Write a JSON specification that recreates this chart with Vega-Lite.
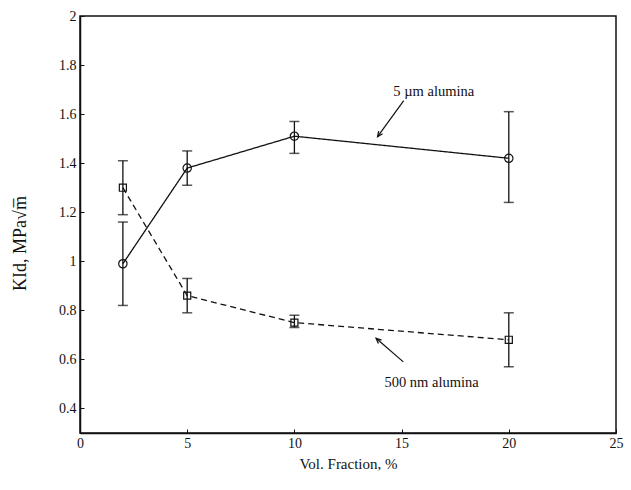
{
  "$schema": "https://vega.github.io/schema/vega-lite/v6.json",
  "width": 536,
  "height": 417,
  "autosize": "none",
  "padding": {"left": 80, "top": 16, "right": 15, "bottom": 57},
  "background": "white",
  "config": {
    "view": {"stroke": "#111", "strokeWidth": 1.5},
    "font": "Liberation Serif",
    "axis": {
      "domainColor": "#111", "domainWidth": 1.5, "tickColor": "#111",
      "labelFont": "Liberation Serif", "titleFont": "Liberation Serif",
      "labelColor": "#111", "titleColor": "#111", "grid": false,
      "titleFontWeight": "normal"
    }
  },
  "datasets": {
    "main": [
      {"s": "5 µm", "x": 2, "y": 0.99, "lo": 0.82, "hi": 1.16},
      {"s": "5 µm", "x": 5, "y": 1.38, "lo": 1.31, "hi": 1.45},
      {"s": "5 µm", "x": 10, "y": 1.51, "lo": 1.44, "hi": 1.57},
      {"s": "5 µm", "x": 20, "y": 1.42, "lo": 1.24, "hi": 1.61},
      {"s": "500 nm", "x": 2, "y": 1.30, "lo": 1.19, "hi": 1.41},
      {"s": "500 nm", "x": 5, "y": 0.86, "lo": 0.79, "hi": 0.93},
      {"s": "500 nm", "x": 10, "y": 0.75, "lo": 0.73, "hi": 0.78},
      {"s": "500 nm", "x": 20, "y": 0.68, "lo": 0.57, "hi": 0.79}
    ]
  },
  "layer": [
    {
      "data": {"name": "main"},
      "mark": {"type": "line", "color": "#111", "strokeWidth": 1.3},
      "encoding": {
        "x": {"field": "x", "type": "quantitative",
          "scale": {"domain": [0, 25], "nice": false, "zero": false},
          "axis": {"values": [0, 5, 10, 15, 20, 25], "title": "Vol. Fraction, %", "tickSize": -4, "labelPadding": 7, "labelFontSize": 14, "titleFontSize": 15, "titlePadding": 6, "labelFlush": false}},
        "y": {"field": "y", "type": "quantitative",
          "scale": {"domain": [0.3, 2], "nice": false, "zero": false},
          "axis": {"values": [0.4, 0.6, 0.8, 1, 1.2, 1.4, 1.6, 1.8, 2], "format": ".1~f", "title": "KId,  MPa√m̅", "tickSize": -4, "labelPadding": 8, "labelFontSize": 14, "titleFontSize": 18, "titleX": -60, "titleY": 227, "titleAngle": -90, "titleAlign": "center", "titleBaseline": "middle", "labelFlush": false}},
        "strokeDash": {"field": "s", "type": "nominal", "scale": {"domain": ["5 µm", "500 nm"], "range": [[1, 0], [6, 4]]}, "legend": null}
      }
    },
    {
      "data": {"name": "main"},
      "mark": {"type": "rule", "color": "#111", "strokeWidth": 1.3},
      "encoding": {
        "x": {"field": "x", "type": "quantitative"},
        "y": {"field": "lo", "type": "quantitative"},
        "y2": {"field": "hi"}
      }
    },
    {
      "data": {"name": "main"},
      "mark": {"type": "tick", "color": "#111", "thickness": 1.5, "size": 10, "orient": "horizontal"},
      "encoding": {
        "x": {"field": "x", "type": "quantitative"},
        "y": {"field": "lo", "type": "quantitative"}
      }
    },
    {
      "data": {"name": "main"},
      "mark": {"type": "tick", "color": "#111", "thickness": 1.5, "size": 10, "orient": "horizontal"},
      "encoding": {
        "x": {"field": "x", "type": "quantitative"},
        "y": {"field": "hi", "type": "quantitative"}
      }
    },
    {
      "data": {"name": "main"},
      "mark": {"type": "point", "stroke": "#111", "strokeWidth": 1.2, "fill": "white", "fillOpacity": 0.0, "opacity": 1},
      "encoding": {
        "x": {"field": "x", "type": "quantitative"},
        "y": {"field": "y", "type": "quantitative"},
        "shape": {"field": "s", "type": "nominal", "scale": {"domain": ["5 µm", "500 nm"], "range": ["circle", "square"]}, "legend": null},
        "size": {"field": "s", "type": "nominal", "scale": {"domain": ["5 µm", "500 nm"], "range": [70, 50]}, "legend": null}
      }
    },
    {
      "data": {"values": [
        {"label": "5  µm alumina", "x": 16.5, "y": 1.69},
        {"label": "500 nm alumina", "x": 16.4, "y": 0.505}
      ]},
      "mark": {"type": "text", "font": "Liberation Serif", "fontSize": 14.5, "color": "#111", "align": "center", "baseline": "middle"},
      "encoding": {
        "x": {"field": "x", "type": "quantitative"},
        "y": {"field": "y", "type": "quantitative"},
        "text": {"field": "label"}
      }
    },
    {
      "data": {"values": [
        {"x": 15.1, "y": 1.655, "x2": 13.88, "y2": 1.508},
        {"x": 15.08, "y": 0.59, "x2": 13.81, "y2": 0.686}
      ]},
      "mark": {"type": "rule", "color": "#111", "strokeWidth": 1.2},
      "encoding": {
        "x": {"field": "x", "type": "quantitative"},
        "y": {"field": "y", "type": "quantitative"},
        "x2": {"field": "x2"},
        "y2": {"field": "y2"}
      }
    },
    {
      "data": {"values": [{"x": 13.88, "y": 1.508}]},
      "mark": {"type": "point", "shape": "M-0.45,1 L0,0 L0.45,1", "size": 110, "angle": 215, "stroke": "#111", "strokeWidth": 1.3, "filled": false, "opacity": 1},
      "encoding": {
        "x": {"field": "x", "type": "quantitative"},
        "y": {"field": "y", "type": "quantitative"}
      }
    },
    {
      "data": {"values": [{"x": 13.81, "y": 0.686}]},
      "mark": {"type": "point", "shape": "M-0.45,1 L0,0 L0.45,1", "size": 110, "angle": 312, "stroke": "#111", "strokeWidth": 1.3, "filled": false, "opacity": 1},
      "encoding": {
        "x": {"field": "x", "type": "quantitative"},
        "y": {"field": "y", "type": "quantitative"}
      }
    }
  ]
}
